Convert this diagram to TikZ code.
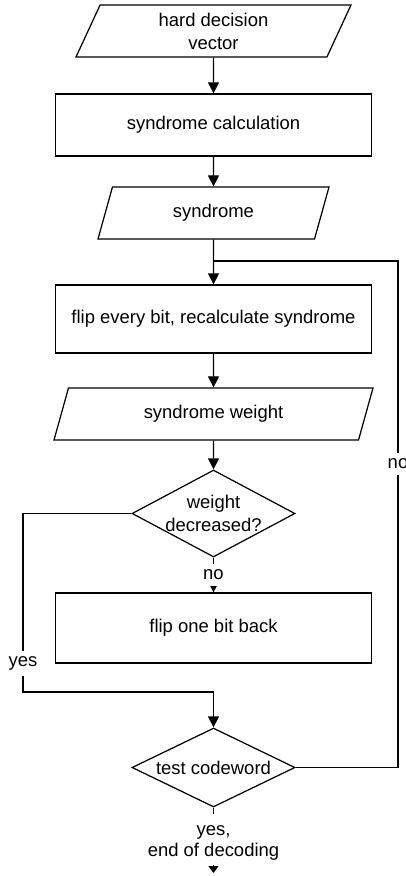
\documentclass[tikz,border=0pt]{standalone}
\usepackage{fontspec}
\setmainfont{Liberation Sans}
\usetikzlibrary{shapes.geometric,arrows.meta}

\begin{document}
\begin{tikzpicture}[
    font=\fontsize{10.5}{13}\selectfont,
    line width=0.7pt,
    proc/.style={draw,rectangle,minimum width=6.32cm,align=center},
    io/.style={draw,trapezium,trapezium left angle=63.4,trapezium right angle=116.6,
      trapezium stretches body,minimum height=1.04cm,align=center},
    decision/.style={draw,diamond,inner sep=0pt,minimum width=3.26cm},
    arrow/.style={-{Triangle[length=0.22cm,width=0.22cm]}},
    tag/.style={fill=white}
  ]
    \useasboundingbox (0,0) rectangle (8.1,-17.52);
    \node[io,minimum width=5.5cm] (hdv) at (4.27,-0.62) {hard decision\\vector};
    \node[proc,minimum height=1.24cm] (calc) at (4.27,-2.5) {syndrome calculation};
    \node[io,minimum width=4.62cm] (syn) at (4.27,-4.26) {syndrome};
    \node[proc,minimum height=1.36cm] (flip) at (4.27,-6.38) {flip every bit, recalculate syndrome};
    \node[io,minimum width=6.38cm] (weight) at (4.27,-8.28) {syndrome weight};
    \node[decision,minimum height=1.74cm,label={[align=center]center:weight\\decreased?}] (dec) at (4.27,-10.27) {};
    \node[proc,minimum height=1.4cm] (back) at (4.27,-12.56) {flip one bit back};
    \node[decision,minimum height=1.58cm,label={center:test codeword}] (test) at (4.27,-15.35) {};
    \node[align=center,inner sep=2pt,font=\fontsize{10.5}{12}\selectfont] (endtxt) at (4.27,-16.86) {yes,\\end of decoding};
    \coordinate (yesbend) at (0.46,-13.84);
    \coordinate (loop) at (7.96,-5.22);
    \coordinate (done) at (4.27,-17.46);

    \draw[arrow] (hdv.south) -- (calc.north);
    \draw[arrow] (calc.south) -- (syn.north);
    \draw[arrow] (syn.south) -- (flip.north);
    \draw[arrow] (flip.south) -- (weight.north);
    \draw[arrow] (weight.south) -- (dec.north);
    \draw[arrow] (dec.south) -- node[tag]{no} (back.north);
    \draw[arrow] (dec.west) -| node[tag,pos=0.92]{yes} (yesbend) -| (test.north);
    \draw (test.east) -| node[tag,pos=0.8]{no} (loop) -- (loop -| syn.south);
    \draw[shorten >=0.14cm] (test.south) -- (endtxt.north);
    \draw[-{Triangle[length=0.14cm,width=0.2cm]}] (endtxt.south) -- (done);
  \end{tikzpicture}
\end{document}
